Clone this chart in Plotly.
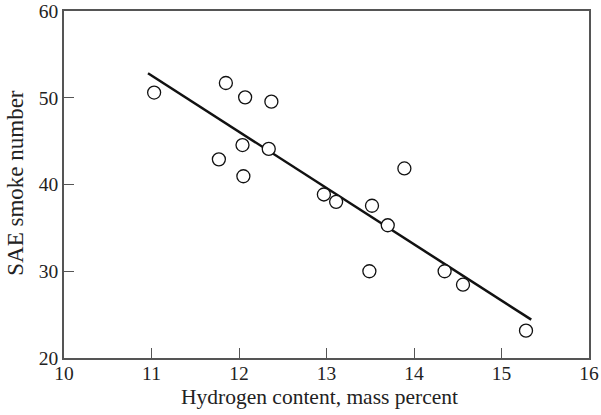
import plotly.graph_objects as go

hydrogen = [11.03, 11.85, 12.07, 12.37, 12.04, 12.34, 11.77, 12.05,
            13.89, 12.97, 13.11, 13.52, 13.70, 13.49, 14.35, 14.56, 15.28]
smoke = [50.6, 51.7, 50.05, 49.55, 44.55, 44.1, 42.9, 40.95,
         41.85, 38.85, 38.0, 37.55, 35.3, 30.0, 30.0, 28.45, 23.15]

fit_x = [10.96, 15.34]
fit_y = [52.83, 24.42]

x_ticks = [10, 11, 12, 13, 14, 15, 16]
y_ticks = [20, 30, 40, 50, 60]

x_title = "Hydrogen content, mass percent"
y_title = "SAE smoke number"

font_family = "Liberation Serif, DejaVu Serif, serif"
axis_color = "#555555"
text_color = "#222222"

fig = go.Figure()
fig.add_trace(go.Scatter(
    x=fit_x, y=fit_y, mode="lines",
    line=dict(color="#111111", width=2.5),
    showlegend=False, hoverinfo="skip",
))
fig.add_trace(go.Scatter(
    x=hydrogen, y=smoke, mode="markers",
    marker=dict(symbol="circle", size=13, color="white",
                line=dict(color="#111111", width=1.3)),
    showlegend=False,
))

axis_common = dict(
    ticks="inside", ticklen=10, tickwidth=1.3, tickcolor=axis_color,
    showline=True, linecolor=axis_color, linewidth=1.5, mirror=True,
    showgrid=False, zeroline=False, automargin=False,
    tickfont=dict(size=19.5, family=font_family, color=text_color),
)

fig.update_layout(
    width=601, height=415,
    margin=dict(l=64, r=12, t=11, b=57),
    paper_bgcolor="white", plot_bgcolor="white",
    font=dict(family=font_family, size=20, color=text_color),
    xaxis=dict(range=[10, 16], tickvals=x_ticks, ticklabelstandoff=-3, **axis_common),
    yaxis=dict(range=[20, 60], tickvals=y_ticks, **axis_common),
    annotations=[
        dict(text=x_title, xref="paper", yref="paper", x=0.486, y=0,
             xanchor="center", yanchor="middle", yshift=-39, showarrow=False,
             font=dict(size=21.5, family=font_family, color=text_color)),
        dict(text=y_title, xref="paper", yref="paper", x=0, y=0.505,
             xanchor="center", yanchor="middle", xshift=-48, textangle=-90,
             showarrow=False,
             font=dict(size=23, family=font_family, color=text_color)),
    ],
)

# remove the page's default body margin so the figure sits at the window origin
fig.write_html("out.html", config={"displayModeBar": False},
               post_script="document.body.style.margin='0';")
